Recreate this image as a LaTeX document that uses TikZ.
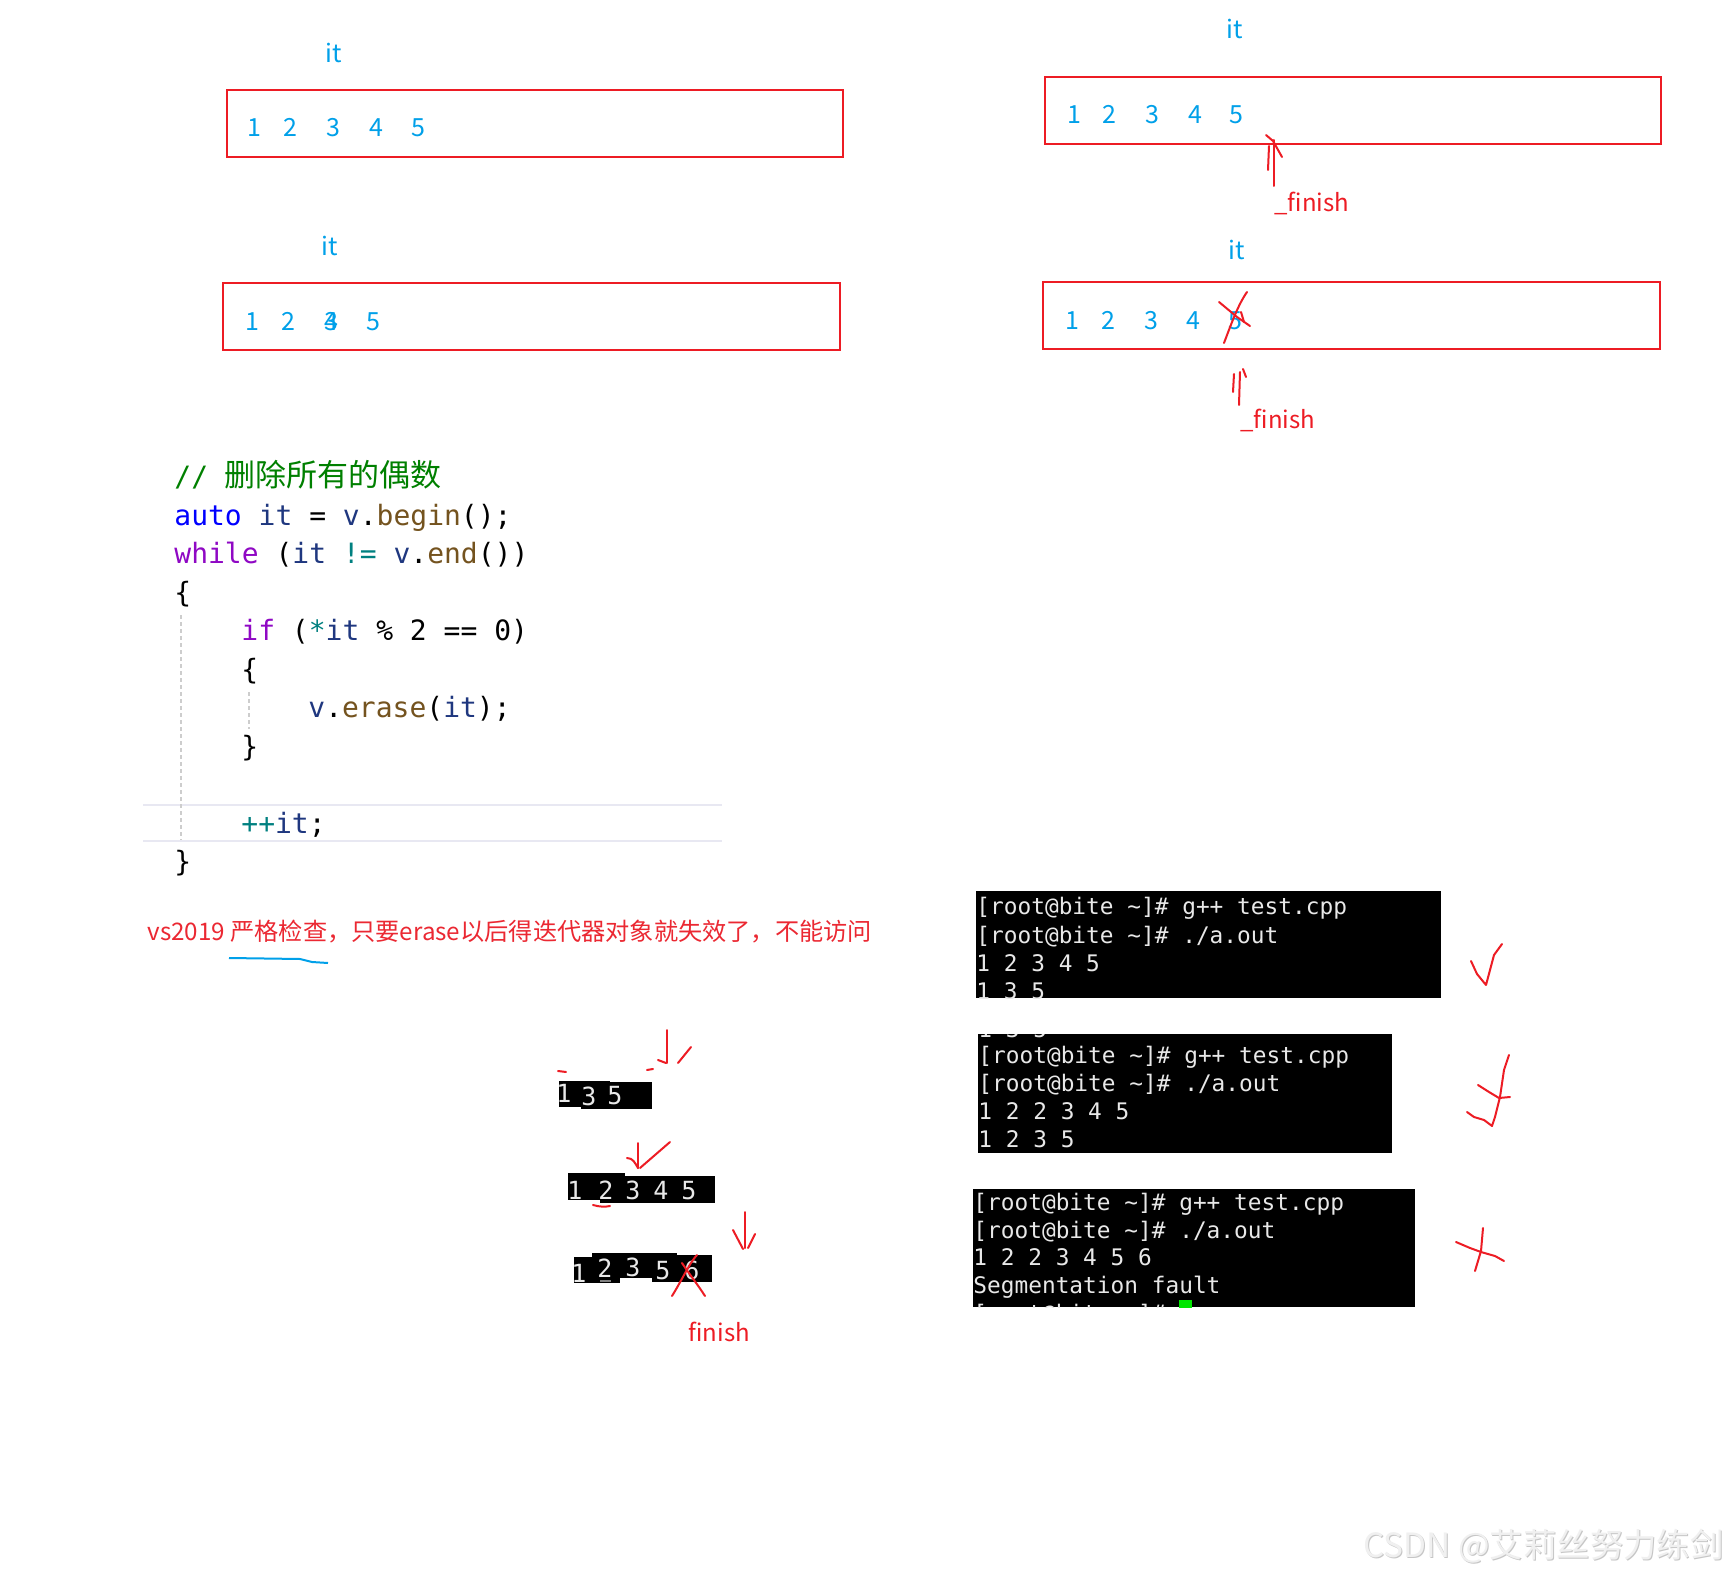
\documentclass[tikz,border=0pt]{standalone}
\usepackage{fontspec}
\newfontfamily\cjk{Noto Sans CJK SC}
\newfontfamily\codefont{DejaVu Sans Mono}
\definecolor{itblue}{RGB}{0,160,233}
\definecolor{boxred}{RGB}{237,28,36}
\definecolor{capred}{RGB}{235,40,50}
\definecolor{cgreen}{RGB}{0,128,0}
\definecolor{ckw}{RGB}{0,0,255}
\definecolor{cvar}{RGB}{31,55,127}
\definecolor{cfun}{RGB}{116,83,31}
\definecolor{cctl}{RGB}{143,8,196}
\definecolor{cop}{RGB}{0,128,128}
\definecolor{hlline}{RGB}{232,232,242}
\definecolor{guidegray}{RGB}{205,205,205}
\definecolor{termtext}{RGB}{232,232,232}
\definecolor{cursorgreen}{RGB}{0,230,0}
\begin{document}
\begin{tikzpicture}[x=0.5pt,y=-0.5pt,
  rbox/.style={draw=boxred,line width=1.4pt},
  num/.style={anchor=base,inner sep=0pt,text=itblue,font=\cjk\fontsize{12.5}{14}\selectfont},
  fin/.style={anchor=base west,inner sep=0pt,text=boxred,font=\cjk\fontsize{12}{14}\selectfont},
  ink/.style={draw=boxred,line width=1pt,line cap=round,line join=round},
  code/.style={anchor=base west,inner sep=0pt,font=\codefont\fontsize{14}{16}\selectfont},
  term/.style={anchor=base west,inner sep=0pt,text=termtext,font=\codefont\fontsize{11.4}{13}\selectfont},
  snip/.style={anchor=base,inner sep=0pt,text=termtext,font=\codefont\fontsize{12.5}{14}\selectfont}]
\useasboundingbox (0,0) rectangle (1725,1573);
\fill[white] (0,0) rectangle (1725,1573);

% ---------- array boxes ----------
\draw[rbox] (227,90) rectangle (843,157);
\node[num] (itA) at (334,63) {it};
\foreach \x/\t [count=\i] in {254/1,290/2,333/3,376/4,418/5}
  \node[num] (bA\i) at (\x,137) {\t};

\draw[rbox] (223,283) rectangle (840,350);
\node[num] (itB) at (330,256) {it};
\foreach \x/\t [count=\i] in {252/1,288/2,331/3,331/4,373/5}
  \node[num] (bB\i) at (\x,330) {\t};

\draw[rbox] (1045,77) rectangle (1661,144);
\node[num] (itC) at (1235,39) {it};
\foreach \x/\t [count=\i] in {1074/1,1109/2,1152/3,1195/4,1236/5}
  \node[num] (bC\i) at (\x,124) {\t};
\draw[ink] (1274,140) -- (1274,186);
\draw[ink] (1269,146) -- (1268,170);
\draw[ink] (1266,135) -- (1273,141) -- (1282,157);
\node[fin] (finC) at (1274,212) {\_finish};

\draw[rbox] (1043,282) rectangle (1660,349);
\node[num] (itD) at (1237,260) {it};
\foreach \x/\t [count=\i] in {1072/1,1108/2,1151/3,1193/4,1235/5}
  \node[num] (bD\i) at (\x,329) {\t};
\draw[ink] (1224,343) .. controls (1232,322) and (1238,305) .. (1247,292);
\draw[ink] (1219,302) -- (1237,317) -- (1250,326);
\draw[ink] (1241,312) -- (1244,322);
\draw[ink] (1240,372) -- (1239,405);
\draw[ink] (1234,374) -- (1233,392);
\draw[ink] (1243,369) -- (1246,377);
\node[fin] (finD) at (1240,429) {\_finish};

% ---------- code ----------
\draw[hlline,line width=1.2pt] (143,805) -- (722,805);
\draw[hlline,line width=1.2pt] (143,841) -- (722,841);
\draw[guidegray,line width=0.6pt,dash pattern=on 2pt off 1.5pt] (181,615) -- (181,840);
\draw[guidegray,line width=0.6pt,dash pattern=on 2pt off 1.5pt] (249,692) -- (249,729);

\node[code,text=cgreen] (c1) at (174,486) {// {\cjk\fontsize{15.5}{16}\selectfont 删除所有的偶数}};
\node[code] (c2) at (174,525) {{\color{ckw}auto} {\color{cvar}it} = {\color{cvar}v}.{\color{cfun}begin}();};
\node[code] (c3) at (174,563) {{\color{cctl}while} ({\color{cvar}it} {\color{cop}!=} {\color{cvar}v}.{\color{cfun}end}())};
\node[code] (c4) at (174,602) {\{};
\node[code] (c5) at (241,640) {{\color{cctl}if} ({\color{cop}*}{\color{cvar}it} \% 2 == 0)};
\node[code] (c6) at (241,679) {\{};
\node[code] (c7) at (308,717) {{\color{cvar}v}.{\color{cfun}erase}({\color{cvar}it});};
\node[code] (c8) at (241,756) {\}};
\node[code] (c9) at (241,833) {{\color{cop}++}{\color{cvar}it};};
\node[code] (c10) at (174,871) {\}};

% ---------- caption ----------
\node[anchor=base west,inner sep=0pt,text=capred,font=\cjk\fontsize{12.1}{14}\selectfont] (cap) at (147,940)
  {vs2019 严格检查，只要erase以后得迭代器对象就失效了，不能访问};
\draw[itblue,line width=1pt] (229,958) -- (300,959) -- (312,962) -- (328,963);

% ---------- snippets ----------
\fill[black] (559,1081) rectangle (610,1107);
\fill[black] (581,1082) rectangle (652,1109);
\foreach \x/\y/\t [count=\i] in {564/1102/1,589/1105/3,615/1104/5}
  \node[snip] (sA\i) at (\x,\y) {\t};
\draw[ink] (667,1030) -- (667,1063);
\draw[ink] (658,1060) -- (666,1063);
\draw[ink] (678,1063) -- (691,1047);
\draw[ink] (558,1071) -- (566,1072);
\draw[ink] (647,1070) -- (653,1069);

\fill[black] (568,1173) rectangle (625,1200);
\fill[black] (600,1176) rectangle (715,1203);
\foreach \x/\t [count=\i] in {575/1,606/2,633/3,661/4,689/5}
  \node[snip] (sB\i) at (\x,1199) {\t};
\draw[ink] (638,1143) -- (638,1168);
\draw[ink] (627,1158) .. controls (633,1158) and (635,1163) .. (638,1168);
\draw[ink] (640,1168) -- (670,1142);
\draw[ink] (593,1205) .. controls (600,1207) and (605,1207) .. (610,1206);

\fill[black] (574,1257) rectangle (620,1283);
\fill[black] (592,1253) rectangle (677,1278);
\fill[black] (652,1255) rectangle (712,1282);
\foreach \x/\y/\t [count=\i] in {579/1282/1,605/1277/2,633/1276/3,663/1279/5,692/1279/6}
  \node[snip] (sC\i) at (\x,\y) {\t};
\draw[gray,line width=0.8pt] (600,1281) -- (611,1281);
\draw[ink] (672,1296) .. controls (682,1280) and (690,1262) .. (697,1255);
\draw[ink] (682,1263) .. controls (690,1275) and (698,1285) .. (705,1296);
\draw[ink] (745,1212) -- (745,1248);
\draw[ink] (733,1230) -- (743,1249);
\draw[ink] (755,1234) -- (748,1248);
\node[fin] (finS) at (688,1341) {finish};

% ---------- terminals ----------
\begin{scope}
\clip (976,891) rectangle (1441,998);
\fill[black] (976,891) rectangle (1441,998);
\node[term] (tA1) at (976,914) {[root@bite \textasciitilde]\# g++ test.cpp};
\node[term] (tA2) at (976,943) {[root@bite \textasciitilde]\# ./a.out};
\node[term] (tA3) at (976,971) {1 2 3 4 5};
\node[term] (tA4) at (976,999) {1 3 5};
\end{scope}
\draw[ink] (1471,961) -- (1477,974) -- (1486,985) -- (1490,970) -- (1494,955) -- (1502,944);

\begin{scope}
\clip (978,1034) rectangle (1392,1153);
\fill[black] (978,1034) rectangle (1392,1153);
\node[term] (tB0) at (978,1037) {1 3 5};
\node[term] (tB1) at (978,1063) {[root@bite \textasciitilde]\# g++ test.cpp};
\node[term] (tB2) at (978,1091) {[root@bite \textasciitilde]\# ./a.out};
\node[term] (tB3) at (978,1119) {1 2 2 3 4 5};
\node[term] (tB4) at (978,1147) {1 2 3 5};
\end{scope}
\draw[ink] (1509,1055) -- (1504,1070) -- (1500,1097) -- (1495,1117) -- (1492,1126) -- (1484,1120) -- (1474,1117) -- (1467,1112);
\draw[ink] (1478,1085) -- (1489,1092) -- (1499,1098) -- (1510,1097);

\begin{scope}
\clip (973,1189) rectangle (1415,1307);
\fill[black] (973,1189) rectangle (1415,1307);
\node[term] (tC1) at (973,1210) {[root@bite \textasciitilde]\# g++ test.cpp};
\node[term] (tC2) at (973,1238) {[root@bite \textasciitilde]\# ./a.out};
\node[term] (tC3) at (973,1265) {1 2 2 3 4 5 6};
\node[term] (tC4) at (973,1293) {Segmentation fault};
\node[term] (tC5) at (973,1321) {[root@bite \textasciitilde]\#};
\fill[cursorgreen] (1179,1300) rectangle (1192,1310);
\end{scope}
\draw[ink] (1456,1242) -- (1470,1248) -- (1481,1252) -- (1495,1256) -- (1504,1261);
\draw[ink] (1483,1228) -- (1481,1251) -- (1475,1271);

% ---------- watermark ----------
\node[anchor=base west,inner sep=0pt,font=\cjk\fontsize{16.7}{18}\selectfont,text=gray!45] (wm0) at (1364,1558) {CSDN @艾莉丝努力练剑};
\node[anchor=base west,inner sep=0pt,font=\cjk\fontsize{16.7}{18}\selectfont,text=gray!12] (wm) at (1363,1557) {CSDN @艾莉丝努力练剑};
\end{tikzpicture}
\end{document}
